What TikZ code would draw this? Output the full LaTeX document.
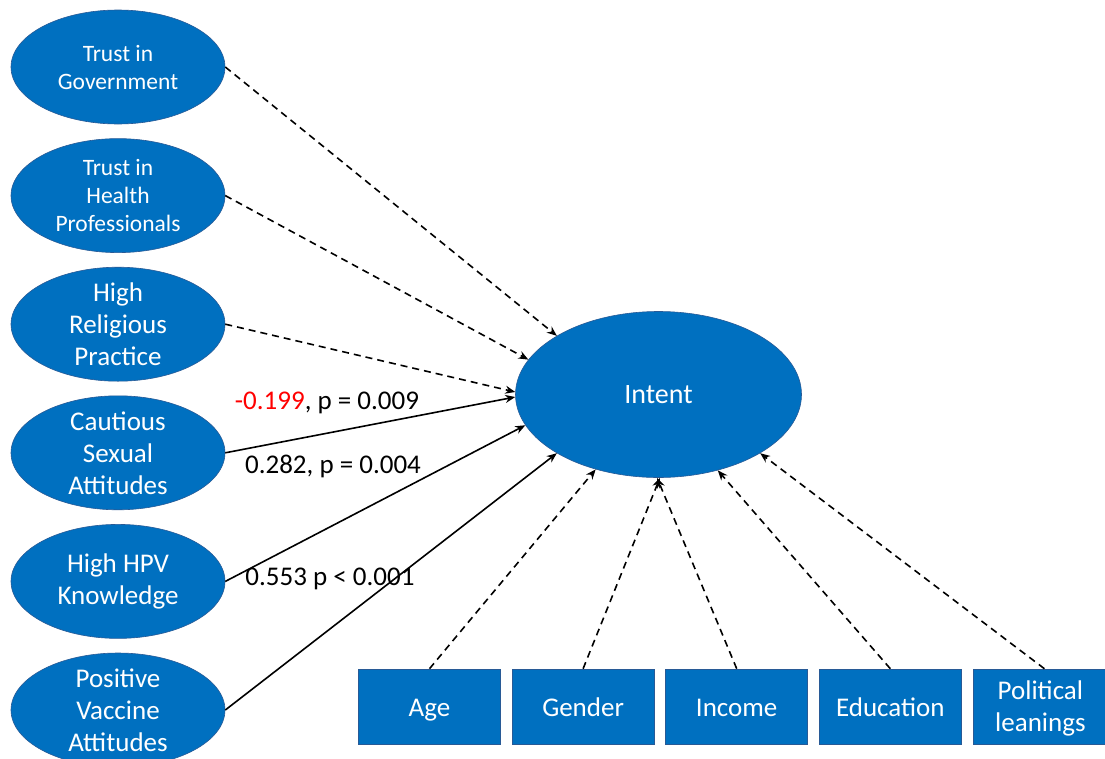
\documentclass[tikz,border=0pt]{standalone}
\usepackage{fontspec}
\setmainfont{Carlito}
\usepackage{xcolor}
\usepackage{tikz}
\usetikzlibrary{shapes,arrows.meta,positioning,calc}
\definecolor{nodeblue}{RGB}{0,112,192}
\definecolor{rimblue}{RGB}{40,90,150}

\begin{document}
\begin{tikzpicture}[x=1pt, y=-1pt, >={Stealth[length=10pt,width=8pt]}]
        \tikzstyle{factor} = [ellipse, draw=rimblue, line width=0.6pt, fill=nodeblue, text=white, align=center, inner sep=-14pt, minimum width=214pt, minimum height=114pt, font=\fontsize{27}{32}\selectfont]
        \tikzstyle{small} = [font=\fontsize{23.5}{28}\selectfont]
        \tikzstyle{covar} = [rectangle, draw=rimblue, line width=0.6pt, fill=nodeblue, text=white, align=center, minimum width=142pt, minimum height=75pt, font=\fontsize{27}{32}\selectfont]
        \tikzstyle{oneline} = [text height=20pt, text depth=1pt]
        \tikzstyle{line} = [draw, ->, line width=1.6pt]
        \tikzstyle{dline} = [line, dash pattern=on 7pt off 5pt]
        \tikzstyle{coef} = [anchor=base, font=\fontsize{27}{32}\selectfont]

        \useasboundingbox (0,0) rectangle (1105,758);

        % Predictor ellipses
        \node [factor, small] (gov) at (118,67) {Trust in\\Government};
        \node [factor, small, below=14pt of gov] (health) {Trust in\\Health\\Professionals};
        \node [factor, below=14pt of health] (relig) {High\\Religious\\Practice};
        \node [factor, below=14pt of relig] (sexual) {Cautious\\Sexual\\Attitudes};
        \node [factor, below=14pt of sexual] (hpv) {High HPV\\Knowledge};
        \node [factor, below=14pt of hpv] (vaccine) {Positive\\Vaccine\\Attitudes};

        % Outcome
        \node [factor, minimum width=286pt, minimum height=166pt, font=\fontsize{28}{32}\selectfont] (intent) at (658.5,394.5) {Intent};

        % Covariate boxes
        \node [covar, oneline] (age) at (429.5,706.5) {Age};
        \node [covar, oneline, right=11pt of age] (gender) {Gender};
        \node [covar, oneline, right=11pt of gender] (income) {Income};
        \node [covar, oneline, right=11pt of income] (edu) {Education};
        \node [covar, text depth=0pt, right=11pt of edu, minimum width=135pt] (politic) {Political\\leanings};

        % Paths
        \path [dline] (gov.east) -- (intent.150);
        \path [dline] (health.east) -- (intent.165);
        \path [dline] (relig.east) -- (intent.179);
        \path [line] (sexual.east) -- (intent.181);
        \path [line] (hpv.east) -- (intent.193);
        \path [line] (vaccine.east) -- (intent.210);
        \path [dline] (age.north) -- (intent.230);
        \path [dline] (gender.north) -- (intent.271);
        \path [dline] (income.north) -- (intent.269);
        \path [dline] (edu.north) -- (intent.308);
        \path [dline] ($(politic.north)+(4pt,0)$) -- (intent.330);

        % Coefficients
        \node [coef] (lblsexual) at (327,409) {\textcolor{red}{-0.199}, p = 0.009};
        \node [coef] (lblhpv) at (333,473) {0.282, p = 0.004};
        \node [coef] (lblvaccine) at (330,585) {0.553 p < 0.001};
\end{tikzpicture}
\end{document}
